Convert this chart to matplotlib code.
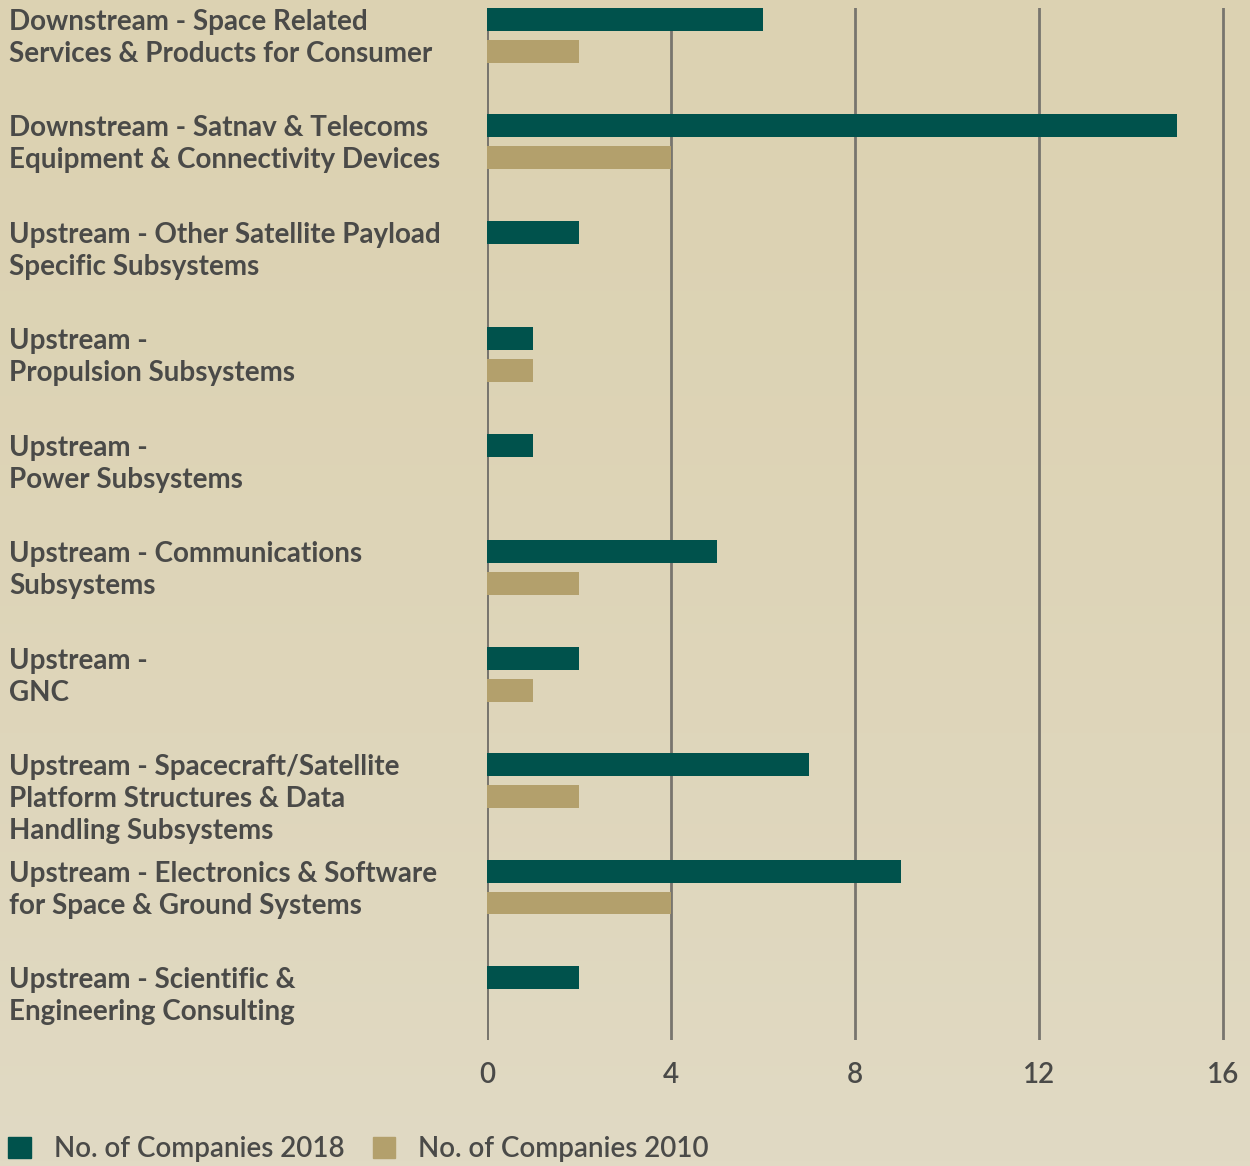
import matplotlib
matplotlib.use("Agg")
import matplotlib.pyplot as plt
import matplotlib.transforms as mtransforms
from matplotlib.colors import LinearSegmentedColormap
from matplotlib.patches import Patch
import numpy as np

# --- Data ---
categories = [
    "Downstream - Space Related\nServices & Products for Consumer",
    "Downstream - Satnav & Telecoms\nEquipment & Connectivity Devices",
    "Upstream - Other Satellite Payload\nSpecific Subsystems",
    "Upstream -\nPropulsion Subsystems",
    "Upstream -\nPower Subsystems",
    "Upstream - Communications\nSubsystems",
    "Upstream -\nGNC",
    "Upstream - Spacecraft/Satellite\nPlatform Structures & Data\nHandling Subsystems",
    "Upstream - Electronics & Software\nfor Space & Ground Systems",
    "Upstream - Scientific &\nEngineering Consulting",
]
companies_2018 = [6, 15, 2, 1, 1, 5, 2, 7, 9, 2]
companies_2010 = [2, 4, 0, 1, 0, 2, 1, 2, 4, 0]
x_ticks = [0, 4, 8, 12, 16]

# Style
BG = "#ddd4b6"
BG_TOP = "#dcd2b2"
BG_BOTTOM = "#e1dac4"
TEAL = "#00524c"
TAN = "#b3a06c"
TEXT = "#4a4a48"
GRID = "#78756e"
OFFSET = 0.30
BAR_H = 0.215

plt.rcParams['font.family'] = ['Lato', 'DejaVu Sans']

fig = plt.figure(figsize=(12.5, 11.66), dpi=100, facecolor=BG)

# soft background gradient, lighter toward the bottom
bg_ax = fig.add_axes([0, 0, 1, 1], zorder=-1)
grad = np.linspace(0, 1, 256).reshape(-1, 1) ** 1.5
bg_ax.imshow(grad, aspect="auto", extent=[0, 1, 0, 1],
             cmap=LinearSegmentedColormap.from_list("bg", [BG_TOP, BG_BOTTOM]))
bg_ax.axis("off")

ax = fig.add_axes([487 / 1250, 1 - 1040 / 1166, 1 - 487 / 1250, (1040 - 8) / 1166])
ax.set_facecolor("none")

pos = np.arange(len(categories))
ax.barh(pos, companies_2018, height=BAR_H, color=TEAL, zorder=3)
ax.barh(pos + OFFSET, companies_2010, height=BAR_H, color=TAN, zorder=3)

ax.set_xlim(0, 763 / 46)
ax.set_ylim(9.587, -0.108)
ax.set_xticks(x_ticks)
ax.set_xticklabels([str(t) for t in x_ticks])
ax.set_yticks([])
ax.tick_params(axis="x", length=0, pad=16, labelsize=20, labelcolor=TEXT)
for t in ax.get_xticklabels():
    t.set_fontweight("semibold")
ax.grid(axis="x", color=GRID, linewidth=2, zorder=1)
ax.axvline(0, color=GRID, linewidth=2, zorder=1)
for s in ax.spines.values():
    s.set_visible(False)

# category labels, one text per line so each line sits next to a bar
trans = mtransforms.blended_transform_factory(fig.transFigure, ax.transData)
for p, label in zip(pos, categories):
    for i, line in enumerate(label.split("\n")):
        ax.text(9 / 1250, p + i * OFFSET, line, transform=trans, ha="left",
                va="center_baseline", fontsize=20, fontweight="bold",
                color=TEXT, clip_on=False)

# --- Legend ---
handles = [Patch(color=TEAL, label="No. of Companies 2018"),
           Patch(color=TAN, label="No. of Companies 2010")]
leg = fig.legend(handles=handles, loc="center left", bbox_to_anchor=(0.0, 1 - 1149 / 1166),
                 ncol=2, frameon=False, fontsize=20, handlelength=0.8, handleheight=0.8,
                 handletextpad=0.85, columnspacing=1.0, borderaxespad=0, borderpad=0.3)
for t in leg.get_texts():
    t.set_color(TEXT)
    t.set_fontweight("semibold")

fig.savefig("out.png", dpi=100, facecolor=BG)
